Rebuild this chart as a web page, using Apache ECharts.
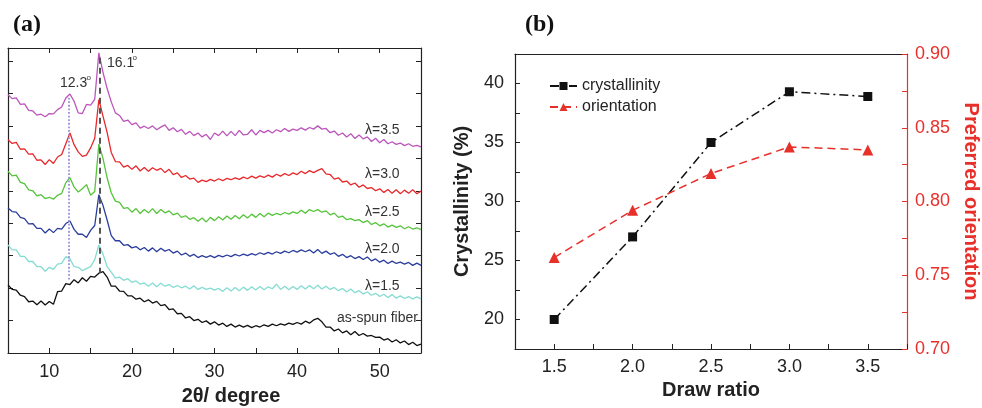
<!DOCTYPE html>
<html>
<head>
<meta charset="utf-8">
<title>XRD patterns and crystallinity / orientation</title>
<script src="https://cdn.jsdelivr.net/npm/echarts@6/dist/echarts.min.js"></script>
<style>
    html, body { margin: 0; padding: 0; background: #fff; }
    #main { width: 982px; height: 408px; }
</style>
</head>
<body>
<div id="main"></div>
<script>
// (a) XRD patterns, 2theta in degree, intensity in arbitrary units (offset stacked)
var twoTheta = [
    5, 5.5, 6, 6.5, 7, 7.5, 8, 8.5, 9, 9.5,
    10, 10.5, 11, 11.5, 12, 12.5, 13, 13.5, 14, 14.5,
    15, 15.5, 16, 16.5, 17, 17.5, 18, 18.5, 19, 19.5,
    20, 20.5, 21, 21.5, 22, 22.5, 23, 23.5, 24, 24.5,
    25, 25.5, 26, 26.5, 27, 27.5, 28, 28.5, 29, 29.5,
    30, 30.5, 31, 31.5, 32, 32.5, 33, 33.5, 34, 34.5,
    35, 35.5, 36, 36.5, 37, 37.5, 38, 38.5, 39, 39.5,
    40, 40.5, 41, 41.5, 42, 42.5, 43, 43.5, 44, 44.5,
    45, 45.5, 46, 46.5, 47, 47.5, 48, 48.5, 49, 49.5,
    50, 50.5, 51, 51.5, 52, 52.5, 53, 53.5, 54, 54.5,
    55
];
var lambda35 = [
    7.96, 7.84, 7.86, 7.66, 7.68, 7.48, 7.46, 7.33, 7.36, 7.28,
    7.38, 7.37, 7.50, 7.58, 7.86, 7.98, 7.76, 7.40, 7.38, 7.66,
    7.64, 7.82, 9.25, 8.65, 8.15, 7.74, 7.40, 7.32, 7.14, 7.18,
    7.04, 7.09, 6.93, 6.99, 6.92, 7.00, 6.88, 6.96, 7.03, 6.86,
    6.94, 6.82, 6.89, 6.74, 6.83, 6.70, 6.78, 6.66, 6.74, 6.58,
    6.78, 6.70, 6.84, 6.69, 6.83, 6.70, 6.86, 6.72, 6.74, 6.88,
    6.72, 6.86, 6.79, 6.86, 6.78, 6.88, 6.82, 6.92, 6.83, 6.90,
    6.86, 6.94, 6.87, 6.95, 6.90, 7.00, 6.90, 6.92, 6.79, 6.84,
    6.71, 6.78, 6.66, 6.76, 6.61, 6.72, 6.60, 6.66, 6.52, 6.62,
    6.48, 6.58, 6.45, 6.51, 6.43, 6.47, 6.39, 6.45, 6.37, 6.40,
    6.35
];
var lambda30 = [
    6.57, 6.46, 6.49, 6.28, 6.29, 6.13, 6.14, 5.94, 5.95, 5.81,
    5.96, 5.84, 6.04, 6.12, 6.45, 6.78, 6.42, 6.20, 6.06, 6.10,
    6.32, 6.62, 7.81, 7.30, 6.80, 6.18, 5.90, 5.89, 5.73, 5.78,
    5.66, 5.77, 5.61, 5.72, 5.60, 5.71, 5.63, 5.69, 5.56, 5.66,
    5.50, 5.55, 5.41, 5.47, 5.36, 5.39, 5.26, 5.33, 5.28, 5.35,
    5.30, 5.37, 5.31, 5.38, 5.34, 5.40, 5.35, 5.42, 5.37, 5.45,
    5.39, 5.46, 5.41, 5.48, 5.42, 5.51, 5.45, 5.53, 5.47, 5.55,
    5.50, 5.60, 5.53, 5.62, 5.56, 5.63, 5.68, 5.52, 5.50, 5.36,
    5.40, 5.27, 5.30, 5.18, 5.24, 5.11, 5.18, 5.07, 5.10, 5.00,
    5.06, 4.95, 5.04, 4.92, 5.03, 4.91, 5.02, 4.92, 5.03, 4.91,
    4.99
];
var lambda25 = [
    5.60, 5.46, 5.48, 5.26, 5.22, 5.03, 5.00, 4.84, 4.88, 4.76,
    4.80, 4.74, 4.86, 4.92, 5.25, 5.40, 5.12, 4.96, 5.06, 5.19,
    4.86, 4.98, 6.44, 6.00, 5.40, 4.94, 4.68, 4.64, 4.46, 4.48,
    4.34, 4.45, 4.30, 4.42, 4.32, 4.45, 4.30, 4.42, 4.32, 4.38,
    4.26, 4.31, 4.18, 4.23, 4.12, 4.17, 4.06, 4.16, 4.04, 4.18,
    4.08, 4.20, 4.10, 4.22, 4.12, 4.24, 4.14, 4.26, 4.16, 4.28,
    4.18, 4.30, 4.20, 4.31, 4.24, 4.30, 4.26, 4.33, 4.28, 4.35,
    4.30, 4.40, 4.31, 4.42, 4.36, 4.42, 4.34, 4.38, 4.26, 4.31,
    4.18, 4.22, 4.11, 4.14, 4.08, 4.11, 4.02, 4.08, 3.96, 4.02,
    3.92, 3.98, 3.88, 3.94, 3.87, 3.92, 3.83, 3.89, 3.82, 3.86,
    3.80
];
var lambda20 = [
    4.47, 4.36, 4.34, 4.18, 4.14, 3.98, 3.99, 3.84, 3.84, 3.70,
    3.82, 3.71, 3.84, 3.82, 3.99, 4.07, 3.81, 3.66, 3.66, 3.56,
    3.78, 3.93, 4.88, 4.55, 4.10, 3.62, 3.46, 3.46, 3.32, 3.34,
    3.24, 3.28, 3.18, 3.25, 3.14, 3.24, 3.12, 3.23, 3.14, 3.19,
    3.08, 3.14, 3.02, 3.08, 2.98, 3.04, 2.94, 3.00, 2.95, 3.00,
    2.94, 3.01, 2.96, 3.02, 2.97, 3.04, 2.99, 3.05, 3.00, 3.06,
    3.02, 3.09, 3.04, 3.10, 3.05, 3.12, 3.07, 3.14, 3.09, 3.16,
    3.11, 3.18, 3.12, 3.18, 3.08, 3.19, 3.07, 3.14, 3.04, 3.09,
    2.98, 3.04, 2.94, 3.00, 2.91, 2.97, 2.88, 2.96, 2.84, 2.90,
    2.80, 2.86, 2.76, 2.83, 2.76, 2.80, 2.74, 2.79, 2.70, 2.77,
    2.70
];
var lambda15 = [
    3.33, 3.18, 3.18, 2.98, 2.98, 2.82, 2.82, 2.66, 2.66, 2.52,
    2.64, 2.58, 2.74, 2.76, 2.97, 2.90, 2.66, 2.64, 2.54, 2.60,
    2.66, 2.88, 3.33, 3.05, 2.66, 2.49, 2.31, 2.34, 2.24, 2.29,
    2.18, 2.22, 2.12, 2.16, 2.06, 2.16, 2.04, 2.15, 2.06, 2.11,
    2.02, 2.08, 2.01, 2.06, 1.97, 2.07, 1.96, 2.02, 1.96, 2.00,
    1.94, 1.99, 1.90, 2.01, 1.91, 2.02, 1.92, 2.03, 1.93, 2.04,
    1.94, 2.05, 1.95, 2.04, 1.98, 2.12, 1.96, 2.06, 1.95, 2.05,
    1.96, 2.07, 1.97, 2.08, 1.98, 2.09, 1.97, 2.06, 1.96, 2.02,
    1.92, 1.99, 1.88, 1.97, 1.86, 1.92, 1.82, 1.88, 1.78, 1.84,
    1.74, 1.81, 1.71, 1.80, 1.69, 1.76, 1.68, 1.74, 1.67, 1.73,
    1.67
];
var asSpun = [
    2.10, 1.96, 1.94, 1.78, 1.74, 1.58, 1.60, 1.49, 1.60, 1.48,
    1.59, 1.50, 1.89, 1.91, 2.14, 2.11, 2.26, 2.16, 2.32, 2.21,
    2.36, 2.34, 2.46, 2.51, 2.34, 2.06, 2.06, 1.91, 1.90, 1.76,
    1.76, 1.66, 1.69, 1.58, 1.64, 1.54, 1.59, 1.46, 1.49, 1.34,
    1.36, 1.21, 1.22, 1.08, 1.12, 1.00, 1.04, 0.94, 0.99, 0.89,
    0.96, 0.86, 0.92, 0.82, 0.89, 0.80, 0.86, 0.80, 0.85, 0.78,
    0.84, 0.80, 0.87, 0.82, 0.89, 0.84, 0.90, 0.86, 0.92, 0.88,
    0.94, 0.89, 0.98, 0.92, 1.02, 1.07, 0.96, 0.80, 0.80, 0.68,
    0.74, 0.62, 0.68, 0.56, 0.66, 0.54, 0.60, 0.52, 0.54, 0.48,
    0.49, 0.40, 0.44, 0.34, 0.41, 0.31, 0.37, 0.26, 0.33, 0.23,
    0.27
];
var xrdNames = ['λ=3.5', 'λ=3.0', 'λ=2.5', 'λ=2.0', 'λ=1.5', 'as-spun fiber'];
var xrdColors = ['#bb55bb', '#e8282a', '#55c43c', '#2a3d9e', '#85dcd3', '#111111'];
// peak guide lines: [2theta, top, bottom]
var peakLines = [[12.4, 7.87, 2.25], [16.1, 9.1, 2.47]];

// (b) draw ratio
var drawRatio = [1.5, 2.0, 2.5, 3.0, 3.5];
var crystallinity = [20.0, 27.0, 35.0, 39.3, 38.9];
var orientation = [0.762, 0.794, 0.819, 0.837, 0.835];

(function (w) {
    var FONT = '"Liberation Sans", Arial, sans-serif';
    var chart = echarts.init(document.getElementById('main'));

    var pairs = function (xs, ys) {
        return xs.map(function (x, i) { return [x, ys[i]]; });
    };
    var isStep = function (v, step) {
        return Math.abs(v / step - Math.round(v / step)) < 1e-6;
    };
    var frameAxis = function (opt) {
        var base = {
            type: 'value',
            axisLine: { show: true, onZero: false, lineStyle: { color: '#222', width: 1.2 } },
            axisTick: { show: true, inside: true, length: 5, lineStyle: { color: '#222', width: 1 } },
            axisLabel: { show: false },
            splitLine: { show: false }
        };
        return Object.assign(base, opt);
    };

    var xrdSeries = [lambda35, lambda30, lambda25, lambda20, lambda15, asSpun].map(function (ys, i) {
        return {
            name: xrdNames[i],
            type: 'line',
            xAxisIndex: 0,
            yAxisIndex: 0,
            data: pairs(twoTheta, ys),
            showSymbol: false,
            lineStyle: { color: xrdColors[i], width: 1.3 },
            z: 3
        };
    });
    xrdSeries[5].markLine = {
        silent: true,
        symbol: ['none', 'none'],
        label: { show: false },
        data: [
            [{ coord: [peakLines[0][0], peakLines[0][1]], lineStyle: { color: '#9b8fdc', type: 'dotted', width: 1.8 } },
                { coord: [peakLines[0][0], peakLines[0][2]] }],
            [{ coord: [peakLines[1][0], peakLines[1][1]], lineStyle: { color: '#555', type: [6, 4], width: 2 } },
                { coord: [peakLines[1][0], peakLines[1][2]] }]
        ]
    };

    var text = function (x, y, str, size, opt) {
        return {
            type: 'text', x: x, y: y, z: 10,
            style: Object.assign({
                text: str, fill: '#333', font: size + 'px ' + FONT,
                align: 'left', verticalAlign: 'middle'
            }, opt || {})
        };
    };

    var option = {
        animation: false,
        backgroundColor: '#fff',
        grid: [
            { left: 8, right: 561, top: 48, bottom: 55 },
            { left: 515, right: 73, top: 54, bottom: 59 }
        ],
        legend: {
            data: ['crystallinity', 'orientation'],
            orient: 'vertical',
            left: 544,
            top: 73,
            itemWidth: 27,
            itemHeight: 10,
            itemGap: 5,
            textStyle: { fontFamily: FONT, fontSize: 16, color: '#222' }
        },
        xAxis: [
            frameAxis({
                gridIndex: 0, position: 'bottom', min: 5, max: 55, interval: 5,
                axisLabel: {
                    show: true, fontFamily: FONT, fontSize: 18, color: '#222', margin: 10,
                    formatter: function (v) { return isStep(v, 10) ? String(v) : ''; }
                }
            }),
            frameAxis({ gridIndex: 0, position: 'top', min: 5, max: 55, interval: 5 }),
            frameAxis({
                gridIndex: 1, position: 'bottom', min: 1.25, max: 3.75, interval: 0.25,
                name: 'Draw ratio', nameLocation: 'middle', nameGap: 30,
                nameTextStyle: { fontFamily: FONT, fontSize: 20, fontWeight: 'bold', color: '#222' },
                axisLabel: {
                    show: true, fontFamily: FONT, fontSize: 18, color: '#222', margin: 9,
                    formatter: function (v) { return isStep(v, 0.5) ? v.toFixed(1) : ''; }
                }
            }),
            frameAxis({ gridIndex: 1, position: 'top', min: 1.25, max: 3.75, axisTick: { show: false } })
        ],
        yAxis: [
            frameAxis({ gridIndex: 0, position: 'left', min: 0, max: 9.4, interval: 1 }),
            frameAxis({ gridIndex: 0, position: 'right', min: 0, max: 9.4, interval: 1 }),
            frameAxis({
                gridIndex: 1, position: 'left', min: 17.5, max: 42.5, interval: 2.5,
                name: 'Crystallinity (%)', nameLocation: 'middle', nameGap: 43,
                nameTextStyle: { fontFamily: FONT, fontSize: 20, fontWeight: 'bold', color: '#222' },
                axisLabel: {
                    show: true, fontFamily: FONT, fontSize: 18, color: '#222', margin: 11,
                    formatter: function (v) { return isStep(v, 5) ? String(v) : ''; }
                }
            }),
            frameAxis({
                gridIndex: 1, position: 'right', min: 0.70, max: 0.90, interval: 0.025,
                name: 'Preferred orientation', nameLocation: 'middle', nameGap: 54, nameRotate: -90,
                nameTextStyle: { fontFamily: FONT, fontSize: 20, fontWeight: 'bold', color: '#e8302a' },
                axisLine: { show: true, onZero: false, lineStyle: { color: '#e8302a', width: 1.2 } },
                axisTick: { show: true, inside: true, length: 5, lineStyle: { color: '#e8302a', width: 1 } },
                axisLabel: {
                    show: true, fontFamily: FONT, fontSize: 18, color: '#e8302a', margin: 8,
                    formatter: function (v) { return isStep(v, 0.05) ? v.toFixed(2) : ''; }
                }
            })
        ],
        series: xrdSeries.concat([
            {
                name: 'crystallinity',
                type: 'line',
                xAxisIndex: 2,
                yAxisIndex: 2,
                data: pairs(drawRatio, crystallinity),
                symbol: 'rect',
                symbolSize: 9,
                itemStyle: { color: '#111' },
                lineStyle: { color: '#111', width: 1.5, type: [9, 4, 2, 4] },
                z: 4
            },
            {
                name: 'orientation',
                type: 'line',
                xAxisIndex: 2,
                yAxisIndex: 3,
                data: pairs(drawRatio, orientation),
                symbol: 'triangle',
                symbolSize: 11,
                itemStyle: { color: '#e8302a' },
                lineStyle: { color: '#e8302a', width: 1.5, type: [8, 5] },
                z: 4
            }
        ]),
        graphic: [
            text(13, 25, '(a)', 24, { font: 'bold 24px "Liberation Serif", serif', fill: '#111' }),
            text(525, 25, '(b)', 24, { font: 'bold 24px "Liberation Serif", serif', fill: '#111' }),
            text(60, 83, '12.3', 14),
            text(86.5, 78, 'o', 8),
            text(107, 63, '16.1', 14),
            text(132.5, 58, 'o', 8),
            text(365, 130, xrdNames[0], 14),
            text(365, 174, xrdNames[1], 14),
            text(365, 212, xrdNames[2], 14),
            text(365, 249, xrdNames[3], 14),
            text(365, 286, xrdNames[4], 14),
            text(337, 318, xrdNames[5], 14),
            text(231, 396, '2θ/ degree', 20, {
                font: 'bold 20px ' + FONT, fill: '#222', align: 'center'
            })
        ]
    };
    chart.setOption(option);
    w.addEventListener('resize', function () {
        chart.resize();
    });
}(window));
</script>
</body>
</html>
